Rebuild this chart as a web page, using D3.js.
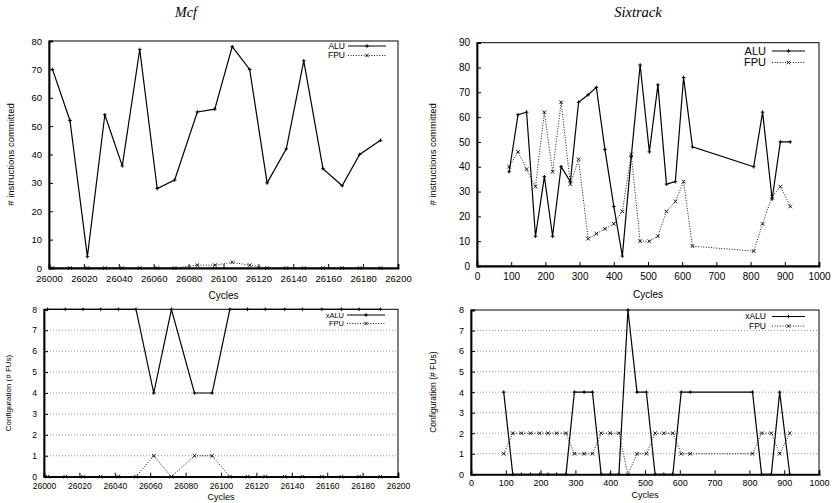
<!DOCTYPE html>
<html>
<head>
<meta charset="utf-8">
<script src="https://cdn.jsdelivr.net/npm/d3@7"></script>
<style>
  body { margin: 0; background: #fff; }
  svg { display: block; }
  text { font-family: "Liberation Sans", Arial, sans-serif; fill: #000; }
</style>
</head>
<body>
<script>
// Mcf samples
var mcfCycles = [26002, 26012, 26022, 26032, 26042, 26052, 26062, 26072, 26085, 26095, 26105, 26115, 26125, 26136, 26146, 26157, 26168, 26178, 26190];
var mcfAlu = [70, 52, 4, 54, 36, 77, 28, 31, 55, 56, 78, 70, 30, 42, 73, 35, 29, 40, 45];
var mcfFpu = [0, 0, 0, 0, 0, 0, 0, 0, 1, 1, 2, 1, 0, 0, 0, 0, 0, 0, 0];
var mcfCfgAlu = [8, 8, 8, 8, 8, 8, 4, 8, 4, 4, 8, 8, 8, 8, 8, 8, 8, 8, 8];
var mcfCfgFpu = [0, 0, 0, 0, 0, 0, 1, 0, 1, 1, 0, 0, 0, 0, 0, 0, 0, 0, 0];

// Sixtrack samples
var sixCycles = [94, 120, 145, 171, 197, 221, 246, 273, 297, 325, 349, 374, 400, 425, 451, 477, 504, 529, 554, 580, 604, 630, 809, 835, 863, 887, 916];
var sixAlu = [38, 61, 62, 12, 36, 12, 40, 34, 66, 69, 72, 47, 24, 4, 44, 81, 46, 73, 33, 34, 76, 48, 40, 62, 27, 50, 50];
var sixFpu = [40, 46, 39, 32, 62, 38, 66, 33, 43, 11, 13, 15, 17, 22, 45, 10, 10, 12, 22, 26, 34, 8, 6, 17, 28, 32, 24];
var sixCfgAlu = [4, 0, 0, 0, 0, 0, 0, 0, 4, 4, 4, 0, 0, 0, 8, 4, 4, 0, 0, 0, 4, 4, 4, 0, 0, 4, 0];
var sixCfgFpu = [1, 2, 2, 2, 2, 2, 2, 2, 1, 1, 1, 2, 2, 2, 0, 1, 1, 2, 2, 2, 1, 1, 1, 2, 2, 1, 2];

var titles = ["Mcf", "Sixtrack"];
var yLabelTop = "# instructions committed";
var yLabelBottom = "Configuration (# FUs)";
var xLabel = "Cycles";
var legendTop = ["ALU", "FPU"];
var legendBottom = ["xALU", "FPU"];

var w = 836;
var h = 503;

var svg = d3.select("body")
  .append("svg")
  .attr("width", w)
  .attr("height", h);

// titles
svg.append("text")
  .attr("x", 186).attr("y", 17)
  .attr("text-anchor", "middle")
  .style("font-family", "'Liberation Serif', 'Times New Roman', serif")
  .style("font-style", "italic")
  .style("font-size", "14px")
  .text(titles[0]);

svg.append("text")
  .attr("x", 638).attr("y", 17)
  .attr("text-anchor", "middle")
  .style("font-family", "'Liberation Serif', 'Times New Roman', serif")
  .style("font-style", "italic")
  .style("font-size", "14.5px")
  .text(titles[1]);

function plus(g, x, y, s) {
  g.append("path")
    .attr("d", "M" + (x - s) + "," + y + "H" + (x + s) + "M" + x + "," + (y - s) + "V" + (y + s))
    .attr("stroke", "#000").attr("stroke-width", 1);
}

function cross(g, x, y, s) {
  g.append("path")
    .attr("d", "M" + (x - s) + "," + (y - s) + "L" + (x + s) + "," + (y + s) + "M" + (x - s) + "," + (y + s) + "L" + (x + s) + "," + (y - s))
    .attr("stroke", "#000").attr("stroke-width", 0.9);
}

function panel(p) {
  var g = svg.append("g");
  var x = d3.scaleLinear().domain(p.xdom).range([p.left, p.right]);
  var y = d3.scaleLinear().domain(p.ydom).range([p.bottom, p.top]);

  // grid
  if (p.grid) {
    g.selectAll(".grid")
      .data(d3.range(p.ydom[0] + 1, p.ydom[1]))
      .enter()
      .append("line")
      .attr("x1", p.left).attr("x2", p.right)
      .attr("y1", function(d) { return y(d); })
      .attr("y2", function(d) { return y(d); })
      .attr("stroke", "#777")
      .attr("stroke-width", 0.8)
      .attr("stroke-dasharray", "1,2");
  }

  // frame
  g.append("rect")
    .attr("x", p.left).attr("y", p.top)
    .attr("width", p.right - p.left).attr("height", p.bottom - p.top)
    .attr("fill", "none").attr("stroke", "#000").attr("stroke-width", 1);

  var xAxis = d3.axisBottom(x).tickValues(p.xticks).tickSize(-4).tickPadding(p.tickPad).tickFormat(d3.format("d"));
  var yAxis = d3.axisLeft(y).tickValues(p.yticks).tickSize(-4).tickPadding(7);

  var gx = g.append("g")
    .attr("transform", "translate(0," + p.bottom + ")")
    .call(xAxis);
  gx.select(".domain").attr("stroke-width", 1.8);
  gx.selectAll("text").style("font-size", p.tickFont + "px").style("font-family", "'Liberation Sans', Arial, sans-serif");

  var gy = g.append("g")
    .attr("transform", "translate(" + p.left + ",0)")
    .call(yAxis);
  gy.select(".domain").attr("stroke-width", 1.8);
  gy.selectAll("text").style("font-size", p.tickFont + "px").style("font-family", "'Liberation Sans', Arial, sans-serif");

  // axis titles
  g.append("text")
    .attr("x", (p.left + p.right) / 2).attr("y", p.bottom + p.xLabelOff)
    .attr("text-anchor", "middle")
    .style("font-size", p.labelFont + "px")
    .text(xLabel);

  g.append("text")
    .attr("transform", "translate(" + p.yLabelX + "," + ((p.top + p.bottom) / 2) + ") rotate(-90)")
    .attr("text-anchor", "middle")
    .style("font-size", p.yLabelFont + "px")
    .text(p.yLabel);

  var line = d3.line()
    .x(function(d) { return x(d[0]); })
    .y(function(d) { return y(d[1]); });

  var fpuData = p.cycles.map(function(c, i) { return [c, p.fpu[i]]; });
  var aluData = p.cycles.map(function(c, i) { return [c, p.alu[i]]; });

  g.append("path")
    .datum(fpuData)
    .attr("d", line)
    .attr("fill", "none").attr("stroke", "#000")
    .attr("stroke-width", 0.9).attr("stroke-dasharray", "1,1.6");
  fpuData.forEach(function(d) { cross(g, x(d[0]), y(d[1]), 1.8); });

  g.append("path")
    .datum(aluData)
    .attr("d", line)
    .attr("fill", "none").attr("stroke", "#000")
    .attr("stroke-width", 1.2);
  aluData.forEach(function(d) { plus(g, x(d[0]), y(d[1]), 1.8); });

  // legend
  var lg = g.append("g");
  for (var k = 0; k < 2; k++) {
    var ly = p.legY + k * p.legStep;
    lg.append("text")
      .attr("x", p.legTextX).attr("y", ly)
      .attr("dy", "0.35em")
      .attr("text-anchor", "end")
      .style("font-size", p.legFont + "px")
      .text(p.legend[k]);
    lg.append("line")
      .attr("x1", p.legX1).attr("x2", p.legX2)
      .attr("y1", ly).attr("y2", ly)
      .attr("stroke", "#000")
      .attr("stroke-width", k == 0 ? 1.2 : 0.9)
      .attr("stroke-dasharray", k == 0 ? null : "1,1.6");
    if (k == 0) plus(lg, (p.legX1 + p.legX2) / 2, ly, 1.8);
    else cross(lg, (p.legX1 + p.legX2) / 2, ly, 1.8);
  }
}

panel({
  xdom: [26000, 26200], ydom: [0, 80],
  left: 49, right: 398, top: 41, bottom: 268,
  xticks: d3.range(26000, 26201, 20), yticks: d3.range(0, 81, 10),
  cycles: mcfCycles, alu: mcfAlu, fpu: mcfFpu,
  tickFont: 9.5, tickPad: 7, labelFont: 10, yLabelFont: 9.5, xLabelOff: 31,
  yLabel: yLabelTop, yLabelX: 14,
  legend: legendTop, legY: 46, legStep: 9.5, legTextX: 345, legX1: 348, legX2: 386, legFont: 8.5,
  grid: false
});

panel({
  xdom: [0, 1000], ydom: [0, 90],
  left: 477, right: 819, top: 42.7, bottom: 266,
  xticks: d3.range(0, 1001, 100), yticks: d3.range(0, 91, 10),
  cycles: sixCycles, alu: sixAlu, fpu: sixFpu,
  tickFont: 10, tickPad: 7, labelFont: 10, yLabelFont: 9.5, xLabelOff: 32,
  yLabel: yLabelTop, yLabelX: 436,
  legend: legendTop, legY: 51, legStep: 11.5, legTextX: 766, legX1: 772, legX2: 805, legFont: 11,
  grid: false
});

panel({
  xdom: [26000, 26200], ydom: [0, 8],
  left: 44, right: 398, top: 309.3, bottom: 476.7,
  xticks: d3.range(26000, 26201, 20), yticks: d3.range(0, 9, 1),
  cycles: mcfCycles, alu: mcfCfgAlu, fpu: mcfCfgFpu,
  tickFont: 8.5, tickPad: 6, labelFont: 9, yLabelFont: 8, xLabelOff: 23.5,
  yLabel: yLabelBottom, yLabelX: 11,
  legend: legendBottom, legY: 315, legStep: 8.5, legTextX: 344, legX1: 347, legX2: 385, legFont: 7.5,
  grid: true
});

panel({
  xdom: [0, 1000], ydom: [0, 8],
  left: 471, right: 819, top: 310, bottom: 474.3,
  xticks: d3.range(0, 1001, 100), yticks: d3.range(0, 9, 1),
  cycles: sixCycles, alu: sixCfgAlu, fpu: sixCfgFpu,
  tickFont: 9, tickPad: 5, labelFont: 9, yLabelFont: 8.5, xLabelOff: 24,
  yLabel: yLabelBottom, yLabelX: 436,
  legend: legendBottom, legY: 316.5, legStep: 9.5, legTextX: 766, legX1: 772, legX2: 805, legFont: 8.5,
  grid: true
});
</script>
</body>
</html>
